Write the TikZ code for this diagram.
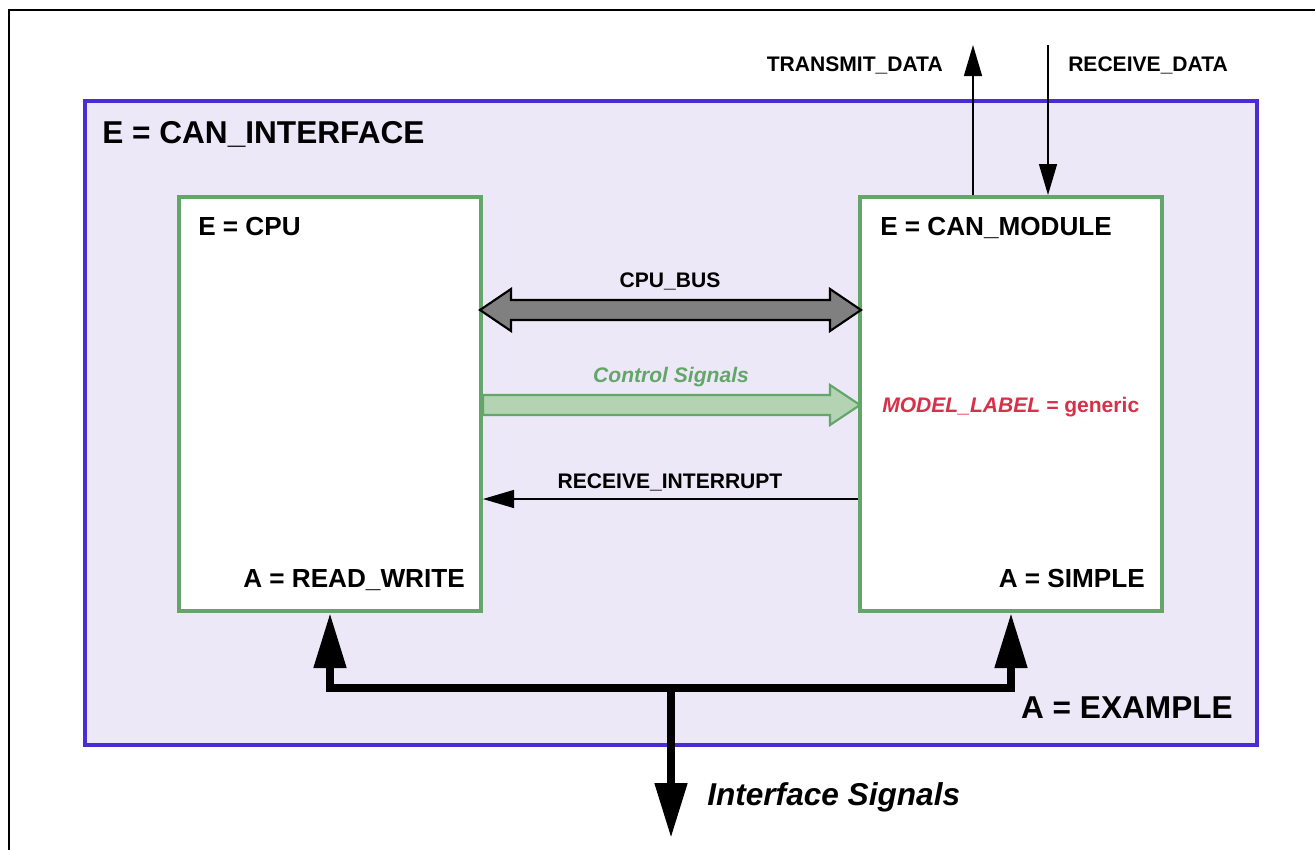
\documentclass[tikz,border=0pt]{standalone}
\usepackage{fontspec}
\setmainfont{Liberation Sans}
\usetikzlibrary{arrows.meta,calc}

\definecolor{frameblue}{RGB}{74,44,214}
\definecolor{lavender}{RGB}{236,232,248}
\definecolor{boxgreen}{RGB}{100,166,106}
\definecolor{lightgreen}{RGB}{179,211,179}
\definecolor{labelred}{RGB}{216,48,72}
\definecolor{busgray}{RGB}{128,128,128}

\tikzset{
  bigtext/.style={inner sep=0pt, font=\bfseries\fontsize{23.7}{28}\selectfont},
  midtext/.style={inner sep=0pt, font=\bfseries\fontsize{19.6}{24}\selectfont},
  smalltext/.style={inner sep=0pt, font=\bfseries\fontsize{15.8}{19}\selectfont},
  container/.style={draw=frameblue, fill=lavender, line width=2.6pt,
    minimum width=879pt, minimum height=483pt, inner sep=0pt},
  entity/.style={draw=boxgreen, fill=white, line width=3pt,
    minimum width=226.5pt, minimum height=310.5pt, inner sep=0pt},
  signal/.style={line width=1.1pt, -{Triangle[length=23.25pt,width=13.5pt]}},
  busline/.style={line width=6pt, line join=miter},
  bustip/.tip={Triangle[length=41.25pt,width=23.25pt]},
  fatbus/.style={draw=black, fill=busgray, line width=1.6pt, line join=miter},
  fatctl/.style={draw=boxgreen, fill=lightgreen, line width=1.6pt, line join=miter}
}

\begin{document}
\begin{tikzpicture}[x=0.75pt,y=-0.75pt]
  \useasboundingbox (0,0) rectangle (1315,850);
  \clip (0,0) rectangle (1315,850);

  % outer sheet frame (runs off the page to the right and below)
  \draw[line width=2pt] (9,10) rectangle (1340,880);

  % enclosing entity
  \node[container] (iface) at (671,423) {};
  \node[bigtext, anchor=base west] (ifaceName) at (102,143) {E = CAN\_INTERFACE};
  \node[bigtext, anchor=base east] (ifaceArch) at (1233,718) {A = EXAMPLE};

  % inner entities
  \node[entity] (cpu) at (330,404) {};
  \node[entity] (module) at (1011,404) {};

  \node[midtext, anchor=base west] (cpuName) at (198,235) {E = CPU};
  \node[midtext, anchor=base east] (cpuArch) at (465,587) {A = READ\_WRITE};
  \node[midtext, anchor=base west] (modName) at (880,235) {E = CAN\_MODULE};
  \node[midtext, anchor=base east] (modArch) at (1145,587) {A = SIMPLE};
  \node[smalltext, anchor=base west, text=labelred] (modLabel) at (882,412)
    {{\itshape MODEL\_LABEL =} generic};

  % external data lines of the CAN module
  \coordinate (txEnd) at (973,45);
  \coordinate (rxStart) at (1048,45);
  \draw[signal] (txEnd |- module.north) -- (txEnd);
  \draw[signal] (rxStart) -- (rxStart |- module.north);
  \node[smalltext, anchor=base east] (txLabel) at (943,71) {TRANSMIT\_DATA};
  \node[smalltext, anchor=base west] (rxLabel) at (1068,71) {RECEIVE\_DATA};

  % CPU bus (double fat arrow)
  \coordinate (busL) at (480,310);
  \coordinate (busR) at (861,310);
  \draw[fatbus] (busL) -- ++(31,-21) -- ++(0,11) -- ($(busR)+(-31,-10)$)
    -- ++(0,-11) -- (busR) -- ++(-31,21) -- ++(0,-11) -- ($(busL)+(31,10)$)
    -- ++(0,11) -- cycle;
  \node[smalltext, anchor=base] (busLabel) at (670,287) {CPU\_BUS};

  % control signals (fat arrow)
  \coordinate (ctlL) at (483,405);
  \coordinate (ctlR) at (860,405);
  \draw[fatctl] ($(ctlL)+(0,-10)$) -- ($(ctlR)+(-30,-10)$) -- ++(0,-10)
    -- (ctlR) -- ++(-30,20) -- ++(0,-10) -- ($(ctlL)+(0,10)$) -- cycle;
  \node[smalltext, anchor=base, text=boxgreen, font=\bfseries\itshape\fontsize{15.8}{19}\selectfont]
    (ctlLabel) at (671,382) {Control Signals};

  % receive interrupt
  \coordinate (irq) at (671,499);
  \draw[signal] (module.west |- irq) -- (cpu.east |- irq);
  \node[smalltext, anchor=base] (irqLabel) at (670,488) {RECEIVE\_INTERRUPT};

  % interface signal bus
  \coordinate (busY) at (671,688);
  \coordinate (sigEnd) at (671,838);
  \draw[busline, bustip-bustip] (cpu.south) -- (cpu.south |- busY)
    -- (module.south |- busY) -- (module.south);
  \draw[busline, -bustip] (busY) -- (sigEnd);
  \node[bigtext, anchor=base west, font=\bfseries\itshape\fontsize{23.7}{28}\selectfont]
    (sigLabel) at (707,805) {Interface Signals};
\end{tikzpicture}
\end{document}
